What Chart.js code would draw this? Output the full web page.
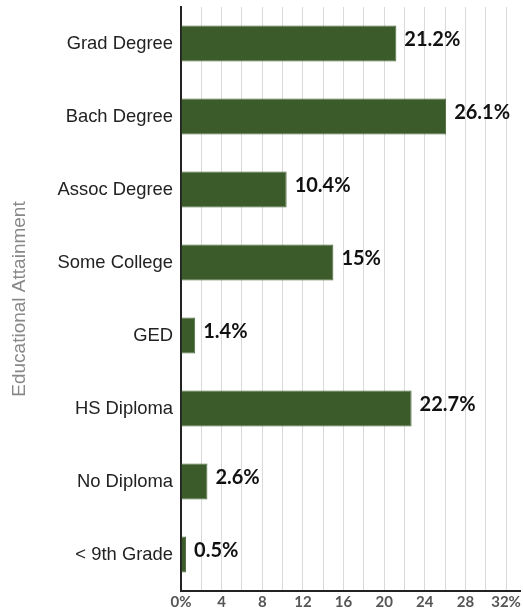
<!DOCTYPE html>
<html lang="en">
<head>
  <meta charset="UTF-8">
  <title>Educational Attainment</title>
  <script src="https://cdn.jsdelivr.net/npm/chart.js"></script>
  <style>
    html, body { margin: 0; padding: 0; background: #ffffff; }
    canvas { display: block; }
  </style>
</head>
<body>
  <canvas id="eduChart" width="523" height="609"></canvas>
  <script>
    const categories = ['Grad Degree', 'Bach Degree', 'Assoc Degree', 'Some College', 'GED', 'HS Diploma', 'No Diploma', '< 9th Grade'];
    const shares = [21.2, 26.1, 10.4, 15, 1.4, 22.7, 2.6, 0.5];
    const tickValues = [0, 2, 4, 6, 8, 10, 12, 14, 16, 18, 20, 22, 24, 26, 28, 30, 32];
    const tickLabels = ['0%', '', '4', '', '8', '', '12', '', '16', '', '20', '', '24', '', '28', '', '32%'];

    // value text at the end of each bar
    const barValues = {
      id: 'barValues',
      afterDatasetsDraw(chart) {
        const ctx = chart.ctx;
        const meta = chart.getDatasetMeta(0);
        ctx.save();
        ctx.font = 'bold 20px Lato';
        ctx.fillStyle = '#111111';
        ctx.textAlign = 'left';
        ctx.textBaseline = 'middle';
        meta.data.forEach((bar, i) => {
          ctx.fillText(shares[i] + '%', bar.x + 8, bar.y - 4);
        });
        ctx.restore();
      }
    };

    new Chart(document.getElementById('eduChart'), {
      type: 'bar',
      data: {
        labels: categories,
        datasets: [{
          data: shares,
          backgroundColor: '#3b5b2b',
          borderColor: '#4b6a3b',
          borderWidth: 1,
          barPercentage: 0.49,
          categoryPercentage: 1
        }]
      },
      options: {
        indexAxis: 'y',
        responsive: false,
        animation: false,
        layout: { padding: { top: 7, right: 2, bottom: 0, left: 0 } },
        plugins: {
          legend: { display: false },
          tooltip: { enabled: false }
        },
        scales: {
          x: {
            min: 0,
            max: 33.4,
            afterBuildTicks: scale => {
              scale.ticks = tickValues.map(v => ({ value: v }));
            },
            afterFit: scale => { scale.height = 18; },
            ticks: {
              padding: 2,
              maxRotation: 0,
              autoSkip: false,
              color: '#555555',
              font: { family: 'Lato', size: 15, weight: 'bold' },
              callback: (v, i) => tickLabels[i]
            },
            grid: { color: '#d9d9d9', lineWidth: 1, drawTicks: false },
            border: { color: '#222222', width: 2 }
          },
          y: {
            afterFit: scale => {
              scale.width = 181;
              scale.paddingTop = 0;
              scale.paddingBottom = 0;
            },
            ticks: {
              padding: 0,
              color: '#222222',
              font: { family: 'Liberation Sans', size: 18.4 }
            },
            grid: { display: false },
            border: { color: '#222222', width: 2 },
            title: {
              display: true,
              text: 'Educational Attainment',
              color: '#888888',
              padding: 8,
              font: { family: 'Liberation Sans', size: 19 }
            }
          }
        }
      },
      plugins: [barValues]
    });
  </script>
</body>
</html>
